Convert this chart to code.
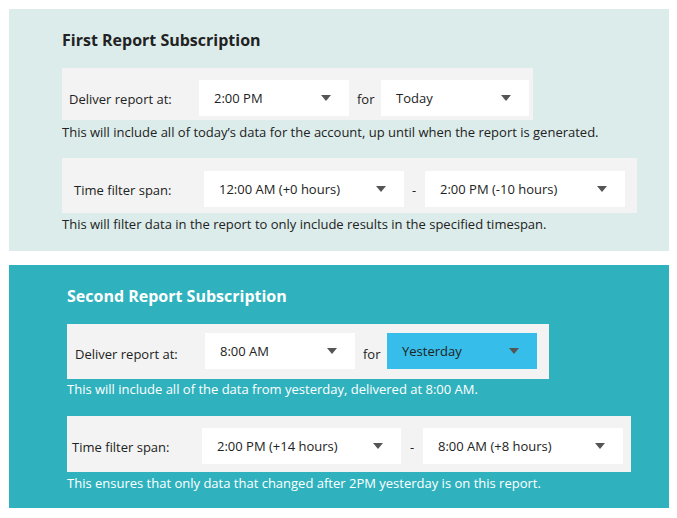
<!DOCTYPE html>
<html><head><meta charset="utf-8">
<script src="https://cdn.jsdelivr.net/npm/chart.js@4"></script>
<style>
body{margin:0;width:677px;height:518px;background:#fff;font-family:"Open Sans","Noto Sans",sans-serif;font-size:13px;color:#222;position:relative;overflow:hidden}
.abs{position:absolute}
.panel{position:absolute;left:9px;width:660px}
.title{position:absolute;font-weight:bold;font-size:16px}
.row{position:absolute;background:#f3f3f3}
.sel{position:absolute;background:#fff;height:36px;line-height:36px;padding-left:15px;box-sizing:border-box}
.sel:after{content:"";position:absolute;right:18px;top:15px;border-left:5px solid transparent;border-right:5px solid transparent;border-top:6px solid #555}
.lbl{position:absolute;line-height:20px}
.note{position:absolute;line-height:18px}
</style></head><body>
<div class="panel" style="top:9px;height:242px;background:#dcecea"></div>
<div class="panel" style="top:265px;height:243px;background:#2fb2be"></div>
<div id="ui"></div>
<script>
// text content for the two subscription blocks
const titles = ['First Report Subscription', 'Second Report Subscription'];
const deliverValues = [['2:00 PM', 'Today'], ['8:00 AM', 'Yesterday']];
const spanValues = [['12:00 AM (+0 hours)', '2:00 PM (-10 hours)'], ['2:00 PM (+14 hours)', '8:00 AM (+8 hours)']];
const notes = [
  ['This will include all of today\u2019s data for the account, up until when the report is generated.',
   'This will filter data in the report to only include results in the specified timespan.'],
  ['This will include all of the data from yesterday, delivered at 8:00 AM.',
   'This ensures that only data that changed after 2PM yesterday is on this report.']
];

const ui = document.getElementById('ui');
function add(cls, style, text) {
  const d = document.createElement('div');
  d.className = cls;
  Object.assign(d.style, style);
  if (text) d.textContent = text;
  ui.appendChild(d);
  return d;
}

// layout per block
const L = [
  {title:[62,29], r1:[62,68,471,52], lab1:[69,89], s1:[199,80,150], f:[357,89], s2:[381,80,148],
   n1:[62,123], r2:[62,158,575,55], lab2:[74,180], s3:[204,171,200], dash:[412,180], s4:[425,171,200], n2:[62,215], color:'#222'},
  {title:[67,285], r1:[67,324,482,55], lab1:[75,344], s1:[205,333,150], f:[363,344], s2:[387,333,150],
   n1:[67,380], r2:[67,416,564,56], lab2:[72,437], s3:[202,428,199], dash:[410,437], s4:[423,428,200], n2:[67,474], color:'#fff'}
];

L.forEach((p, i) => {
  const px = v => v + 'px';
  add('title', {left:px(p.title[0]), top:px(p.title[1]), color:p.color}, titles[i]);
  add('row', {left:px(p.r1[0]), top:px(p.r1[1]), width:px(p.r1[2]), height:px(p.r1[3])});
  add('lbl', {left:px(p.lab1[0]), top:px(p.lab1[1])}, 'Deliver report at:');
  add('sel', {left:px(p.s1[0]), top:px(p.s1[1]), width:px(p.s1[2])}, deliverValues[i][0]);
  add('lbl', {left:px(p.f[0]), top:px(p.f[1])}, 'for');
  const s2 = add('sel', {left:px(p.s2[0]), top:px(p.s2[1]), width:px(p.s2[2])}, deliverValues[i][1]);
  if (i === 1) { s2.style.background = '#36bde9'; }
  add('note', {left:px(p.n1[0]), top:px(p.n1[1]), color:p.color}, notes[i][0]);
  add('row', {left:px(p.r2[0]), top:px(p.r2[1]), width:px(p.r2[2]), height:px(p.r2[3])});
  add('lbl', {left:px(p.lab2[0]), top:px(p.lab2[1])}, 'Time filter span:');
  add('sel', {left:px(p.s3[0]), top:px(p.s3[1]), width:px(p.s3[2])}, spanValues[i][0]);
  add('lbl', {left:px(p.dash[0]), top:px(p.dash[1])}, '-');
  add('sel', {left:px(p.s4[0]), top:px(p.s4[1]), width:px(p.s4[2])}, spanValues[i][1]);
  add('note', {left:px(p.n2[0]), top:px(p.n2[1]), color:p.color}, notes[i][1]);
});
</script>
</body></html>
